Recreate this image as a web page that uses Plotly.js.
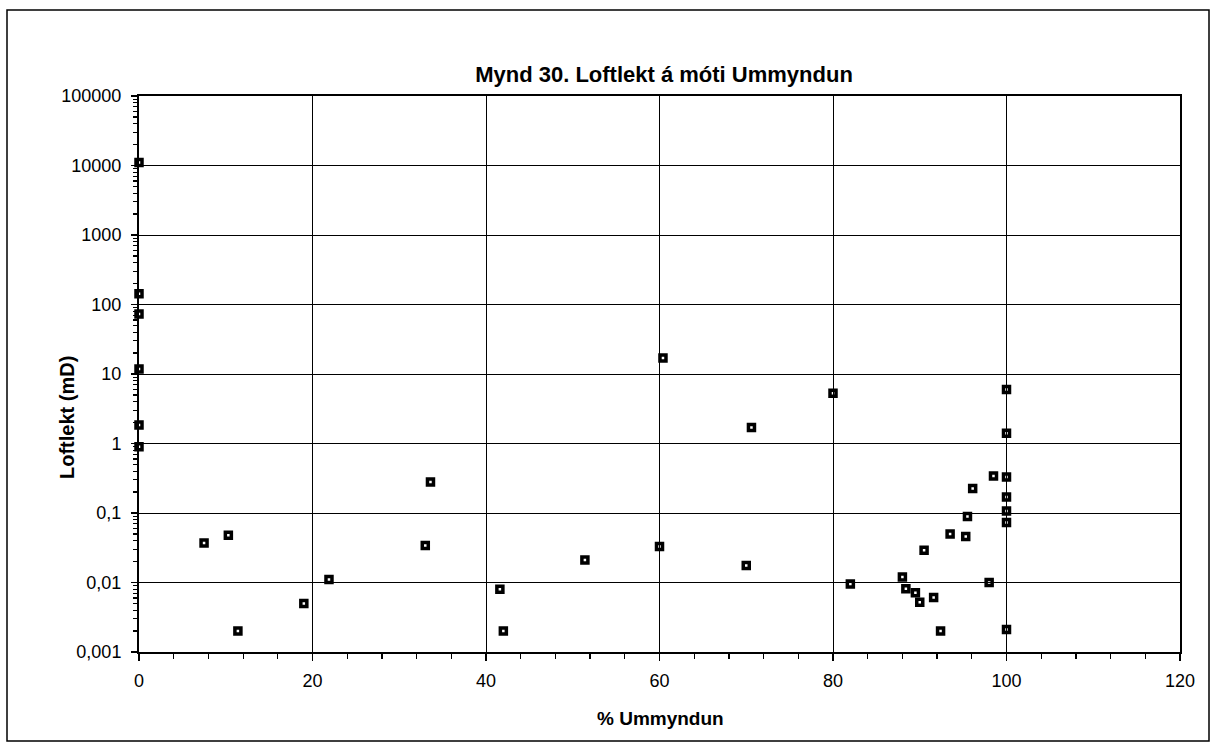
<!DOCTYPE html>
<html>
<head>
<meta charset="utf-8">
<script src="https://cdn.plot.ly/plotly-3.0.1.min.js"></script>
<style>
  html, body { margin: 0; padding: 0; background: #fff; }
  #chart { width: 1213px; height: 747px; }
</style>
</head>
<body>
<div id="chart"></div>
<script>
// Data
const ummyndun = [0, 0, 0, 0, 0, 0,
  7.5, 10.3, 11.4, 19, 21.9, 33, 33.6, 41.6, 42, 51.4, 60, 60.4, 70, 70.6, 80, 82,
  88, 88.4, 89.5, 90, 90.5, 91.6, 92.4, 93.5, 95.3, 95.5, 96.1, 98, 98.5,
  100, 100, 100, 100, 100, 100, 100];
const loftlekt = [11000, 143, 73, 11.8, 1.84, 0.9,
  0.037, 0.048, 0.002, 0.005, 0.011, 0.034, 0.28, 0.008, 0.002, 0.021, 0.033, 17, 0.0176, 1.7, 5.3, 0.0095,
  0.012, 0.0081, 0.0071, 0.0052, 0.029, 0.0061, 0.002, 0.05, 0.046, 0.089, 0.225, 0.01, 0.34,
  6.0, 1.4, 0.33, 0.17, 0.107, 0.073, 0.0021];

const yTickVals = [0.001, 0.01, 0.1, 1, 10, 100, 1000, 10000, 100000];
const yTickText = ['0,001', '0,01', '0,1', '1', '10', '100', '1000', '10000', '100000'];
const xTickVals = [0, 20, 40, 60, 80, 100, 120];

const chartTitle = 'Mynd 30. Loftlekt á móti Ummyndun';
const xTitle = '% Ummyndun';
const yTitle = 'Loftlekt (mD)';

// minor tick positions on the log axis (2..9 within each decade)
const yMinor = [];
for (let e = -3; e < 5; e++) {
  for (let m = 2; m <= 9; m++) yMinor.push(m * Math.pow(10, e));
}

const W = 1213, H = 747;
const M = { l: 139, r: 33, t: 96, b: 95 };
const pw = W - M.l - M.r, ph = H - M.t - M.b;
const px = x => (x - M.l) / pw;
const py = y => (H - M.b - y) / ph;

const FONT = 'Liberation Sans, Arial, sans-serif';

const trace = {
  type: 'scatter',
  mode: 'markers',
  x: ummyndun,
  y: loftlekt,
  marker: {
    symbol: 'square-open',
    size: 6,
    color: '#000',
    line: { color: '#000', width: 3.5 }
  },
  cliponaxis: false,
  hoverinfo: 'x+y'
};

const layout = {
  width: W, height: H,
  margin: M,
  paper_bgcolor: '#fff',
  plot_bgcolor: '#fff',
  showlegend: false,
  font: { family: FONT, color: '#000', size: 18 },
  title: {
    text: '<b>' + chartTitle + '</b>',
    font: { family: FONT, size: 22, color: '#000' },
    xref: 'paper', x: px(664), xanchor: 'center',
    yref: 'container', y: 1 - 74 / H, yanchor: 'middle'
  },
  xaxis: {
    type: 'linear',
    range: [0, 120],
    tickmode: 'array',
    tickvals: xTickVals,
    ticks: 'outside', ticklen: 7, tickwidth: 1.5, tickcolor: '#000',
    ticklabelstandoff: 4,
    tickfont: { family: FONT, size: 18, color: '#000' },
    showgrid: true, gridcolor: '#000', gridwidth: 1,
    zeroline: false,
    showline: true, linecolor: '#000', linewidth: 2, mirror: true,
    minor: { dtick: 4, tick0: 0, ticks: 'outside', ticklen: 5, tickwidth: 1.2, tickcolor: '#000', showgrid: false }
  },
  yaxis: {
    type: 'log',
    range: [-3, 5],
    tickmode: 'array',
    tickvals: yTickVals,
    ticktext: yTickText,
    ticks: 'outside', ticklen: 6, tickwidth: 1.5, tickcolor: '#000',
    ticklabelstandoff: 6,
    tickfont: { family: FONT, size: 18, color: '#000' },
    showgrid: true, gridcolor: '#000', gridwidth: 1,
    zeroline: false,
    showline: true, linecolor: '#000', linewidth: 2, mirror: true,
    minor: { tickmode: 'array', tickvals: yMinor, ticks: 'outside', ticklen: 4, tickwidth: 1.2, tickcolor: '#000', showgrid: false }
  },
  annotations: [
    {
      text: '<b>' + xTitle + '</b>',
      xref: 'paper', yref: 'paper',
      x: px(660), y: py(718), xanchor: 'center', yanchor: 'middle',
      showarrow: false,
      font: { family: FONT, size: 19, color: '#000' }
    },
    {
      text: '<b>' + yTitle + '</b>',
      xref: 'paper', yref: 'paper',
      x: px(67), y: py(418), xanchor: 'center', yanchor: 'middle',
      textangle: -90,
      showarrow: false,
      font: { family: FONT, size: 20, color: '#000' }
    }
  ],
  shapes: [
    {
      type: 'rect', xref: 'paper', yref: 'paper',
      x0: px(7), x1: px(1209), y0: py(741), y1: py(10),
      line: { color: '#000', width: 1.5 },
      fillcolor: 'rgba(0,0,0,0)',
      layer: 'below'
    }
  ]
};

Plotly.newPlot('chart', [trace], layout, { displayModeBar: false, staticPlot: true });
</script>
</body>
</html>
